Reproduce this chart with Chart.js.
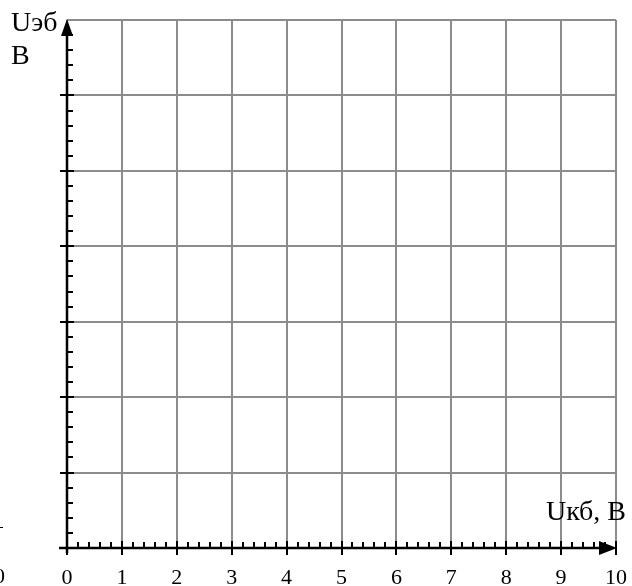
<!DOCTYPE html>
<html>
<head>
<meta charset="utf-8">
<script src="https://cdn.jsdelivr.net/npm/chart.js@4.4.1/dist/chart.umd.min.js"></script>
<style>
  html, body { margin: 0; padding: 0; background: #fff; }
  #wrap { width: 632px; height: 586px; }
</style>
</head>
<body>
<div id="wrap"><canvas id="chart" width="632" height="586"></canvas></div>
<script>
// axis values
const xTicks = [0, 1, 2, 3, 4, 5, 6, 7, 8, 9, 10];
const yLevels = [0, 1, 2, 3, 4, 5, 6, 7];
const minorSteps = 5;
const xTitle = 'Uкб, В';
const yTitle = ['Uэб', 'В'];

const serif = "'Liberation Serif', 'Times New Roman', serif";

const axesPlugin = {
    id: 'axesPlugin',
    afterDraw(chart) {
        const ctx = chart.ctx;
        const xs = chart.scales.x;
        const ys = chart.scales.y;
        const x0 = xs.getPixelForValue(0);
        const y0 = ys.getPixelForValue(0);
        const xEnd = xs.getPixelForValue(xTicks[xTicks.length - 1]);
        const yEnd = ys.getPixelForValue(yLevels[yLevels.length - 1]);

        ctx.save();
        ctx.strokeStyle = '#000';
        ctx.fillStyle = '#000';
        ctx.lineWidth = 2.5;

        // main axis lines
        ctx.beginPath();
        ctx.moveTo(x0 - 8, y0);
        ctx.lineTo(xEnd - 4, y0);
        ctx.moveTo(x0, y0 + 5);
        ctx.lineTo(x0, yEnd + 4);
        ctx.stroke();

        // arrows
        ctx.beginPath();
        ctx.moveTo(xEnd + 1, y0);
        ctx.lineTo(xEnd - 17, y0 - 7);
        ctx.lineTo(xEnd - 17, y0 + 7);
        ctx.closePath();
        ctx.fill();
        ctx.beginPath();
        ctx.moveTo(x0, yEnd - 1);
        ctx.lineTo(x0 - 6, yEnd + 16);
        ctx.lineTo(x0 + 6, yEnd + 16);
        ctx.closePath();
        ctx.fill();

        // ticks on x
        ctx.lineWidth = 2;
        ctx.beginPath();
        for (let i = 0; i < xTicks.length - 1; i += 1) {
            for (let k = 0; k < minorSteps; k += 1) {
                const px = Math.round(xs.getPixelForValue(xTicks[i] + k / minorSteps));
                if (k === 0) {
                    ctx.moveTo(px, y0 - 7);
                    ctx.lineTo(px, y0 + 7);
                } else {
                    ctx.moveTo(px, y0 - 6);
                    ctx.lineTo(px, y0);
                }
            }
        }
        const pxLast = Math.round(xEnd);
        ctx.moveTo(pxLast, y0 - 7);
        ctx.lineTo(pxLast, y0 + 7);

        // ticks on y
        for (let i = 0; i < yLevels.length - 1; i += 1) {
            for (let k = 0; k < minorSteps; k += 1) {
                const py = Math.round(ys.getPixelForValue(yLevels[i] + k / minorSteps));
                if (k === 0) {
                    if (i === 0) continue;
                    ctx.moveTo(x0 - 7, py);
                    ctx.lineTo(x0 + 7, py);
                } else {
                    ctx.moveTo(x0, py);
                    ctx.lineTo(x0 + 6, py);
                }
            }
        }
        ctx.stroke();

        // titles
        ctx.font = '28px ' + serif;
        ctx.textAlign = 'left';
        ctx.textBaseline = 'alphabetic';
        ctx.fillText(yTitle[0], 11, 31);
        ctx.fillText(yTitle[1], 11, 64);
        ctx.textAlign = 'right';
        ctx.fillText(xTitle, 626, 520);

        // cut-off bits at the left edge
        ctx.font = '22px ' + serif;
        ctx.fillText('0', 5, 583);
        ctx.lineWidth = 1;
        ctx.beginPath();
        ctx.moveTo(0, 527.5);
        ctx.lineTo(3, 527.5);
        ctx.stroke();
        ctx.restore();
    }
};

new Chart(document.getElementById('chart').getContext('2d'), {
    type: 'scatter',
    data: { datasets: [{ data: [] }] },
    options: {
        responsive: false,
        animation: false,
        events: [],
        layout: { padding: { left: 0, right: 16, top: 20, bottom: 0 } },
        plugins: { legend: { display: false }, tooltip: { enabled: false } },
        scales: {
            x: {
                type: 'linear',
                min: xTicks[0],
                max: xTicks[xTicks.length - 1],
                afterBuildTicks: (s) => { s.ticks = xTicks.map((v) => ({ value: v })); },
                afterFit: (s) => { s.height = 38; s.paddingLeft = 0; s.paddingRight = 0; },
                grid: { color: '#8c8c8c', lineWidth: 2, drawTicks: false },
                border: { display: false },
                ticks: {
                    color: '#000',
                    padding: 17,
                    maxRotation: 0,
                    autoSkip: false,
                    font: { family: serif, size: 22 }
                }
            },
            y: {
                type: 'linear',
                min: yLevels[0],
                max: yLevels[yLevels.length - 1],
                afterBuildTicks: (s) => { s.ticks = yLevels.map((v) => ({ value: v })); },
                afterFit: (s) => { s.width = 67; s.paddingTop = 0; s.paddingBottom = 0; },
                grid: { color: '#8c8c8c', lineWidth: 2, drawTicks: false },
                border: { display: false },
                ticks: { display: false }
            }
        }
    },
    plugins: [axesPlugin]
});
</script>
</body>
</html>
